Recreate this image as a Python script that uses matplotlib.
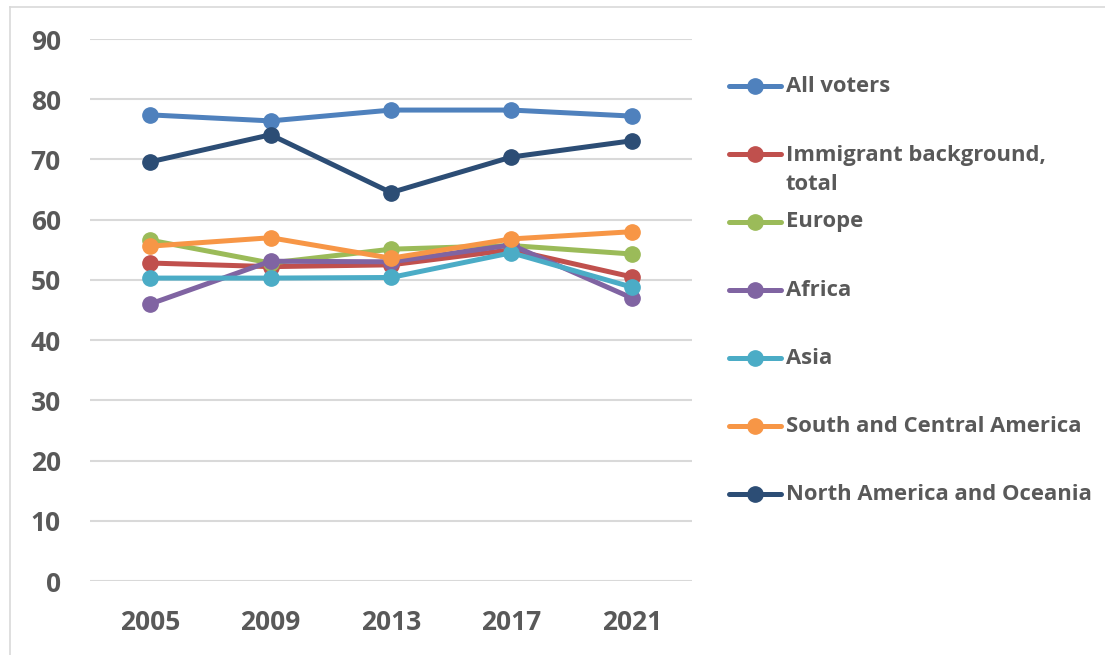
import numpy as np
from matplotlib import pyplot as plt
from matplotlib.lines import Line2D

years = ['2005', '2009', '2013', '2017', '2021']

all_voters = [77.4, 76.4, 78.2, 78.2, 77.2]
immigrant_total = [52.8, 52.2, 52.5, 55.0, 50.5]
europe = [56.6, 52.8, 55.1, 55.7, 54.3]
africa = [46.0, 53.1, 53.0, 55.8, 47.0]
asia = [50.3, 50.3, 50.4, 54.5, 48.8]
south_central_america = [55.6, 57.0, 53.6, 56.8, 58.0]
north_america_oceania = [69.6, 74.1, 64.5, 70.4, 73.1]

series = [
    ('All voters', all_voters, '#4F81BD'),
    ('Immigrant background,\ntotal', immigrant_total, '#C0504D'),
    ('Europe', europe, '#9BBB59'),
    ('Africa', africa, '#8064A2'),
    ('Asia', asia, '#4BACC6'),
    ('South and Central America', south_central_america, '#F79646'),
    ('North America and Oceania', north_america_oceania, '#2C4D75'),
]

W, H = 1105, 655
fig = plt.figure(figsize=(W / 100, H / 100), dpi=100, facecolor='white')
ax = fig.add_axes([90 / W, 1 - 581 / H, (692 - 90) / W, (581 - 39) / H])

x = np.arange(len(years))
for name, vals, col in series:
    ax.plot(x, vals, color=col, linewidth=3.6, marker='o', markersize=11,
            solid_capstyle='round', zorder=3)

ax.set_xlim(-0.5, len(years) - 0.5)
ax.set_ylim(0, 90)
ax.set_yticks(range(0, 91, 10))
ax.set_xticks(x)
ax.set_xticklabels(years)
ax.grid(axis='y', color='#D9D9D9', linewidth=1.5, zorder=0)
ax.set_axisbelow(True)
for s in ax.spines.values():
    s.set_visible(False)
ax.tick_params(length=0, labelsize=19, labelcolor='#595959')
ax.tick_params(axis='y', pad=21)
ax.tick_params(axis='x', pad=20)
for lab in ax.get_xticklabels() + ax.get_yticklabels():
    lab.set_fontfamily('Open Sans')
    lab.set_fontweight('bold')

# legend drawn by hand so the two-line entry keeps its marker on the first line
for i, (name, vals, col) in enumerate(series):
    yy = 1 - (86 + 68 * i) / H
    fig.add_artist(Line2D([729 / W, 781 / W], [yy, yy], color=col, linewidth=3.6,
                          solid_capstyle='round'))
    fig.add_artist(Line2D([755 / W], [yy], color=col, marker='o', markersize=11))
    t = fig.text(786 / W, yy, name, fontsize=15.8, fontfamily='Open Sans', fontweight='bold',
                 color='#595959', va='center', linespacing=1.5)
    if '\n' in name:
        t.set_va('top')
        t.set_y(yy + 9 / H)

# light frame of the chart area
fig.add_artist(Line2D([10 / W, 10 / W], [0, 1 - 7 / H], color='#D9D9D9', linewidth=1.2))
fig.add_artist(Line2D([10 / W, 1], [1 - 7 / H, 1 - 7 / H], color='#D9D9D9', linewidth=1.2))

fig.savefig('out.png', dpi=100)
